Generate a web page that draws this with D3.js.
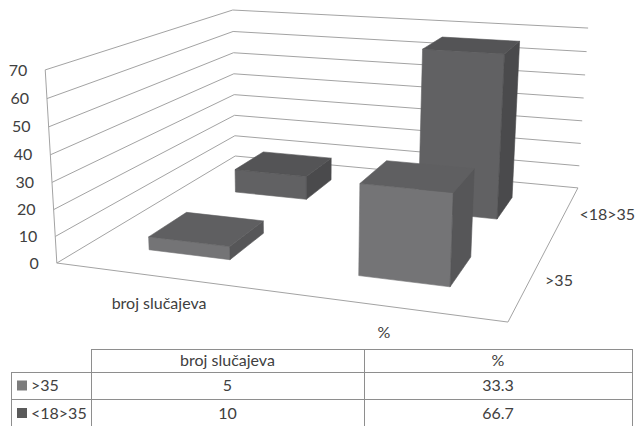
<!DOCTYPE html>
<html>
<head>
<meta charset="utf-8">
<script src="https://cdn.jsdelivr.net/npm/d3@7"></script>
<style>
  html, body { margin: 0; padding: 0; background: #ffffff; }
  svg { display: block; font-family: Lato, "Open Sans", sans-serif; }
</style>
</head>
<body>
<svg id="chart" width="636" height="426"></svg>
<script>
// ---- data ----
const categories = ["broj slučajeva", "%"];
const seriesNames = [">35", "<18>35"];
const valuesGt35 = [5, 33.3];
const values18to35 = [10, 66.7];
const valueTicks = [0, 10, 20, 30, 40, 50, 60, 70];

const seriesValues = [valuesGt35, values18to35];

// ---- styles ----
const textColor = "#404040";
const gridColor = "#a3a3a3";
const faceColors = [
  { front: "#747476", top: "#5f5f61", side: "#565658", legend: "#7c7c7c" },
  { front: "#616163", top: "#545456", side: "#4a4a4c", legend: "#5a5a5a" }
];

// ---- perspective projection of the plot cube ----
// unit cube: u runs along the categories, v up the value axis, w back into depth
const cubeCorners = [
  [[0, 0, 0], [57, 263]],
  [[1, 0, 0], [508, 322]],
  [[0, 0, 1], [235, 156]],
  [[1, 0, 1], [578, 188]],
  [[0, 1, 0], [45, 70]],
  [[0, 1, 1], [233, 10]],
  [[1, 1, 1], [588, 28]]
];

function fitProjection(pairs) {
  // least-squares 3x4 camera matrix with the last entry fixed to 1
  const A = [], b = [];
  pairs.forEach(([[u, v, w], [x, y]]) => {
    A.push([u, v, w, 1, 0, 0, 0, 0, -x * u, -x * v, -x * w]); b.push(x);
    A.push([0, 0, 0, 0, u, v, w, 1, -y * u, -y * v, -y * w]); b.push(y);
  });
  const n = 11;
  const M = d3.range(n).map(i => d3.range(n + 1).map(j => 0));
  A.forEach((row, r) => {
    for (let i = 0; i < n; i++) {
      for (let j = 0; j < n; j++) M[i][j] += row[i] * row[j];
      M[i][n] += row[i] * b[r];
    }
  });
  for (let c = 0; c < n; c++) {
    let p = c;
    for (let r = c + 1; r < n; r++) if (Math.abs(M[r][c]) > Math.abs(M[p][c])) p = r;
    [M[c], M[p]] = [M[p], M[c]];
    for (let r = 0; r < n; r++) {
      if (r === c) continue;
      const f = M[r][c] / M[c][c];
      for (let j = c; j <= n; j++) M[r][j] -= f * M[c][j];
    }
  }
  const m = M.map((row, i) => row[n] / row[i]);
  return (u, v, w) => {
    const d = m[8] * u + m[9] * v + m[10] * w + 1;
    return [(m[0] * u + m[1] * v + m[2] * w + m[3]) / d,
            (m[4] * u + m[5] * v + m[6] * w + m[7]) / d];
  };
}
const project = fitProjection(cubeCorners);

// ---- scales ----
const xBand = d3.scaleBand().domain(categories).range([0, 1]).paddingInner(0.6).paddingOuter(0.3);
const zBand = d3.scaleBand().domain(seriesNames).range([0, 1]).paddingInner(0.6).paddingOuter(0.3);
const yScale = d3.scaleLinear().domain([0, 70]).range([0, 1]);

const svg = d3.select("#chart");
const line = d3.line();

// ---- walls and grid ----
const grid = svg.append("g").attr("fill", "none").attr("stroke", gridColor).attr("stroke-width", 1);
valueTicks.forEach(t => {
  const v = yScale(t);
  grid.append("path").attr("d", line([project(0, v, 1), project(1, v, 1)]));
  grid.append("path").attr("d", line([project(0, v, 0), project(0, v, 1)]));
});
grid.append("path").attr("d", line([project(0, 0, 0), project(0, 1, 0)]));
grid.append("path").attr("d", line([project(0, 0, 0), project(1, 0, 0), project(1, 0, 1)]));

// value axis labels
svg.append("g")
  .attr("fill", textColor).attr("font-size", 16).attr("text-anchor", "end")
  .selectAll("text").data(valueTicks).join("text")
  .attr("x", t => project(0, yScale(t), 0)[0] - 18)
  .attr("y", t => project(0, yScale(t), 0)[1])
  .attr("dy", "0.35em")
  .text(t => t);

// ---- 3D columns, back row first ----
const bars = [];
seriesNames.forEach((s, si) => {
  categories.forEach((c, ci) => {
    bars.push({ si, ci, value: seriesValues[si][ci] });
  });
});
bars.sort((a, b) => d3.descending(a.si, b.si) || d3.ascending(a.ci, b.ci));

const barG = svg.append("g");
bars.forEach(bd => {
  const u0 = xBand(categories[bd.ci]), u1 = u0 + xBand.bandwidth();
  const w0 = zBand(seriesNames[bd.si]), w1 = w0 + zBand.bandwidth();
  const v0 = 0, v1 = yScale(bd.value);
  const col = faceColors[bd.si];
  const faces = [
    { pts: [[u0, v0, w0], [u1, v0, w0], [u1, v1, w0], [u0, v1, w0]], fill: col.front },
    { pts: [[u1, v0, w0], [u1, v0, w1], [u1, v1, w1], [u1, v1, w0]], fill: col.side },
    { pts: [[u0, v1, w0], [u1, v1, w0], [u1, v1, w1], [u0, v1, w1]], fill: col.top }
  ];
  faces.forEach(f => {
    barG.append("path")
      .attr("d", line(f.pts.map(p => project(...p))) + "Z")
      .attr("fill", f.fill)
      .attr("stroke", f.fill)
      .attr("stroke-width", 0.6)
      .attr("stroke-linejoin", "round");
  });
});

// category labels along the front edge
svg.append("g")
  .attr("fill", textColor).attr("font-size", 16).attr("text-anchor", "middle")
  .selectAll("text").data(categories).join("text")
  .attr("x", c => project(xBand(c) + xBand.bandwidth() / 2, 0, 0)[0])
  .attr("y", c => project(xBand(c) + xBand.bandwidth() / 2, 0, 0)[1] + 27)
  .attr("dy", "0.35em")
  .text(c => c);

// series labels along the right floor edge
svg.append("g")
  .attr("fill", textColor).attr("font-size", 16).attr("text-anchor", "start")
  .selectAll("text").data(seriesNames).join("text")
  .attr("x", s => project(1, 0, zBand(s) + zBand.bandwidth() / 2)[0] + 15)
  .attr("y", s => project(1, 0, zBand(s) + zBand.bandwidth() / 2)[1] + 1)
  .attr("dy", "0.35em")
  .text(s => s);

// ---- data table ----
const colEdges = [11, 91, 364, 632];
const rowEdges = [349, 372, 399, 427];
const table = svg.append("g");
const border = table.append("g").attr("stroke", "#8e8e8e").attr("stroke-width", 1).attr("fill", "none")
  .attr("shape-rendering", "crispEdges");

border.append("path").attr("d", line([[colEdges[1], rowEdges[0]], [colEdges[3], rowEdges[0]]]));
rowEdges.slice(1).forEach(y => {
  border.append("path").attr("d", line([[colEdges[0], y], [colEdges[3], y]]));
});
colEdges.forEach((x, i) => {
  const top = i === 0 ? rowEdges[1] : rowEdges[0];
  border.append("path").attr("d", line([[x, top], [x, rowEdges[3]]]));
});

const cellText = table.append("g").attr("fill", textColor).attr("font-size", 16).attr("text-anchor", "middle");
categories.forEach((c, ci) => {
  cellText.append("text")
    .attr("x", (colEdges[ci + 1] + colEdges[ci + 2]) / 2)
    .attr("y", (rowEdges[0] + rowEdges[1]) / 2)
    .attr("dy", "0.35em")
    .text(c);
});
seriesNames.forEach((s, si) => {
  const yMid = (rowEdges[si + 1] + rowEdges[si + 2]) / 2;
  table.append("rect")
    .attr("x", colEdges[0] + 6).attr("y", yMid - 5)
    .attr("width", 10).attr("height", 10)
    .attr("fill", faceColors[si].legend);
  table.append("text")
    .attr("x", colEdges[0] + 20).attr("y", yMid).attr("dy", "0.35em")
    .attr("fill", textColor).attr("font-size", 16)
    .text(s);
  seriesValues[si].forEach((val, ci) => {
    cellText.append("text")
      .attr("x", (colEdges[ci + 1] + colEdges[ci + 2]) / 2)
      .attr("y", yMid)
      .attr("dy", "0.35em")
      .text(String(val));
  });
});
</script>
</body>
</html>
